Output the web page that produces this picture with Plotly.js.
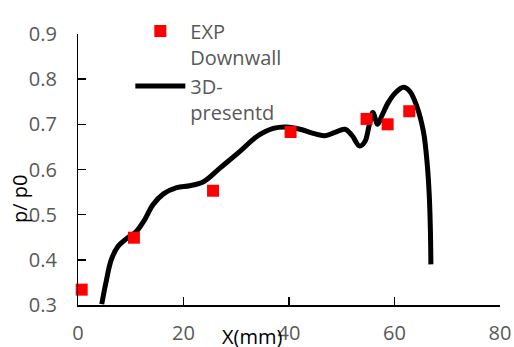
<!DOCTYPE html>
<html>
<head>
<meta charset="utf-8">
<script src="https://cdn.plot.ly/plotly-3.0.1.min.js"></script>
<style>html,body{margin:0;padding:0;background:#fff;}#chart{width:514px;height:347px;}</style>
</head>
<body>
<div id="chart"></div>
<script>
// Experimental points (EXP Downwall)
const expX = [0.7, 10.6, 25.6, 40.3, 54.7, 58.7, 62.8];
const expY = [0.334, 0.449, 0.553, 0.683, 0.712, 0.700, 0.729];

// 3D-presentd curve
const simX = [4.5, 5.3, 6.3, 7.6, 9.2, 11.0, 12.6, 14.2, 16.2, 18.7, 21.2, 23.8, 26.9, 30.7, 33.9, 37.0, 39.6, 42.1, 44.6, 46.8, 48.7, 50.6, 51.9, 53.4, 54.4, 55.2, 55.9, 56.8, 57.6, 58.8, 60.1, 61.7, 62.9, 64.2, 65.5, 66.2, 66.6, 66.8, 66.9];
const simY = [0.302, 0.350, 0.400, 0.430, 0.447, 0.462, 0.488, 0.522, 0.546, 0.560, 0.564, 0.573, 0.603, 0.640, 0.673, 0.691, 0.694, 0.689, 0.680, 0.675, 0.682, 0.689, 0.676, 0.652, 0.662, 0.698, 0.726, 0.700, 0.719, 0.748, 0.769, 0.782, 0.773, 0.741, 0.683, 0.612, 0.540, 0.468, 0.390];

const xTicks = [0, 20, 40, 60, 80];
const yTicks = [0.3, 0.4, 0.5, 0.6, 0.7, 0.8, 0.9];

const traces = [
  {x: simX, y: simY, type: 'scatter', mode: 'lines', name: '3D-<br>presentd',
   line: {color: '#000000', width: 5, shape: 'spline', smoothing: 1}},
  {x: expX, y: expY, type: 'scatter', mode: 'markers', name: 'EXP<br>Downwall',
   marker: {symbol: 'square', size: 12, color: '#FF0000'}, cliponaxis: false}
];

const tickFont = {family: 'Open Sans, sans-serif', size: 20, color: '#595959'};

const layout = {
  width: 514, height: 347,
  margin: {l: 78, r: 14, t: 26, b: 42, pad: 0},
  paper_bgcolor: '#ffffff', plot_bgcolor: '#ffffff',
  showlegend: true,
  legend: {x: 0.124, y: 1.083, xanchor: 'left', yanchor: 'top', traceorder: 'reversed', valign: 'top',
    font: {family: 'Open Sans, sans-serif', size: 20, color: '#595959'},
    bgcolor: 'rgba(0,0,0,0)', itemwidth: 50, tracegroupgap: 8},
  xaxis: {range: [0, 80], tickmode: 'array', tickvals: xTicks, ticktext: xTicks.map(String),
    showgrid: false, zeroline: false, showline: true, linecolor: '#000000', linewidth: 1.5,
    ticks: 'inside', ticklen: 8, tickcolor: '#000000', tickwidth: 1.5,
    tickfont: tickFont, ticklabelstandoff: 9},
  yaxis: {range: [0.3, 0.9], tickmode: 'array', tickvals: yTicks, ticktext: yTicks.map(v => v.toFixed(1) + '   '),
    showgrid: false, zeroline: false, showline: true, linecolor: '#000000', linewidth: 1.5,
    ticks: 'inside', ticklen: 8, tickcolor: '#000000', tickwidth: 1.5,
    tickfont: tickFont},
  annotations: [
    {text: 'X(mm)', xref: 'paper', yref: 'paper', x: (220 - 78) / 422, y: -0.118,
     xanchor: 'left', yanchor: 'middle', showarrow: false,
     font: {family: 'Open Sans, sans-serif', size: 20, color: '#000000'}},
    {text: 'p/ p0', xref: 'paper', yref: 'paper', x: -0.138, y: 0.39,
     xanchor: 'center', yanchor: 'middle', showarrow: false, textangle: -90,
     font: {family: 'Open Sans, sans-serif', size: 20, color: '#000000'}}
  ]
};

Plotly.newPlot('chart', traces, layout, {displayModeBar: false, staticPlot: true});
</script>
</body>
</html>
